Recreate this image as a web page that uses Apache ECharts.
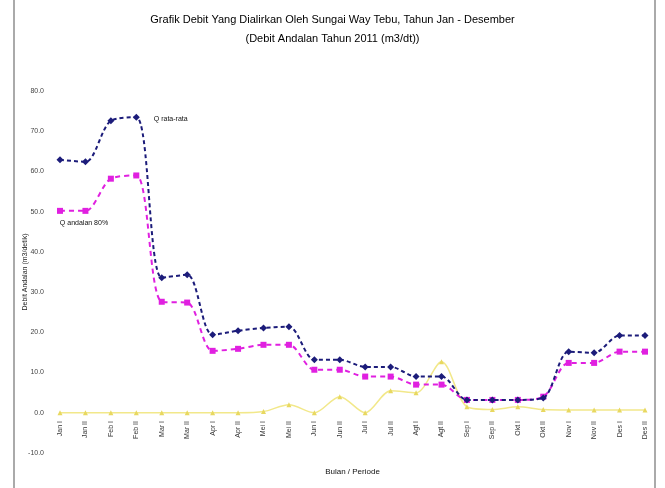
<!DOCTYPE html>
<html>
<head>
<meta charset="utf-8">
<script src="https://cdn.jsdelivr.net/npm/echarts@6/dist/echarts.min.js"></script>
<style>html,body{margin:0;padding:0;background:#fff}#c{width:665px;height:488px}</style>
</head>
<body>
<div id="c"></div>
<script>
var categories = ["Jan I","Jan II","Feb I","Feb II","Mar I","Mar II","Apr I","Apr II","Mei I","Mei II","Jun I","Jun II","Jul I","Jul II","Agt I","Agt II","Sep I","Sep II","Okt I","Okt II","Nov I","Nov II","Des I","Des II"];
var qRata = [62.9,62.4,72.6,73.5,33.6,34.3,19.4,20.4,21.1,21.4,13.2,13.2,11.4,11.4,9.0,9.0,3.2,3.2,3.2,3.7,15.2,14.9,19.2,19.2];
var qAndalan = [50.2,50.2,58.2,59.0,27.6,27.4,15.4,15.9,16.9,16.9,10.7,10.7,9.0,9.0,7.0,7.0,3.2,3.2,3.2,4.0,12.4,12.4,15.2,15.2];
var kebutuhan = [0,0,0,0,0,0,0,0,0.3,2.0,0,4.0,0,5.5,5.0,12.7,1.5,0.8,1.5,0.8,0.7,0.7,0.7,0.7];
var yTicks = {min:-10, max:80, interval:10};
var seriesNames = ["Q rata-rata","Q andalan 80%","Kebutuhan"];

var chart = echarts.init(document.getElementById('c'));
var font = '"Liberation Sans", Arial, sans-serif';
chart.setOption({
  backgroundColor:'#fff',
  textStyle:{fontFamily:font},
  graphic:[{type:'rect',shape:{x:14,y:-4,width:641,height:500},style:{fill:'none',stroke:'#aaa',lineWidth:2},silent:true}],
  title:{
    text:'Grafik Debit Yang Dialirkan Oleh Sungai Way Tebu, Tahun Jan - Desember\n(Debit Andalan Tahun 2011 (m3/dt))',
    left:'center', top:5,
    textStyle:{fontSize:11, fontWeight:'normal', color:'#000', lineHeight:19, fontFamily:font}
  },
  grid:{left:60,right:20,top:91,bottom:35,containLabel:false,outerBoundsMode:'none'},
  xAxis:{
    type:'category', data:categories, boundaryGap:false, offset:-40,
    axisLine:{show:false,onZero:false}, axisTick:{show:false},
    axisLabel:{rotate:90,fontSize:7,color:'#333',margin:8},
    name:'Bulan / Periode', nameLocation:'middle', nameGap:55, nameMoveOverlap:false,
    nameTextStyle:{fontSize:8,color:'#111'}
  },
  yAxis:{
    type:'value', min:yTicks.min, max:yTicks.max, interval:yTicks.interval,
    axisLine:{show:false}, axisTick:{show:false}, splitLine:{show:false},
    axisLabel:{fontSize:7,color:'#444',margin:16,formatter:function(v){return v.toFixed(1);}},
    name:'Debit Andalan (m3/detik)', nameLocation:'middle', nameGap:31, nameMoveOverlap:false,
    nameTextStyle:{fontSize:7,color:'#222'}
  },
  series:[
    {name:seriesNames[0],type:'line',smooth:0.3,data:qRata.map(function(v,i){
        return i===3?{value:v,label:{show:true,position:'right',distance:14,formatter:seriesNames[0],fontSize:7,color:'#111',offset:[0,2]}}:v;}),
     symbol:'diamond',symbolSize:7,itemStyle:{color:'#1c1c7a'},lineStyle:{color:'#1c1c7a',width:2,type:[4,3]},z:3},
    {name:seriesNames[1],type:'line',smooth:0.3,data:qAndalan.map(function(v,i){
        return i===0?{value:v,label:{show:true,position:'bottom',distance:6,formatter:seriesNames[1],fontSize:7,color:'#111',offset:[24,0]}}:v;}),
     symbol:'rect',symbolSize:6,itemStyle:{color:'#e020e0'},lineStyle:{color:'#e020e0',width:2,type:[5,4]},z:2},
    {name:seriesNames[2],type:'line',smooth:0.3,data:kebutuhan,
     symbol:'triangle',symbolSize:5,itemStyle:{color:'#e8d860'},lineStyle:{color:'#f2e88a',width:1.5},z:1}
  ]
});
</script>
</body>
</html>
